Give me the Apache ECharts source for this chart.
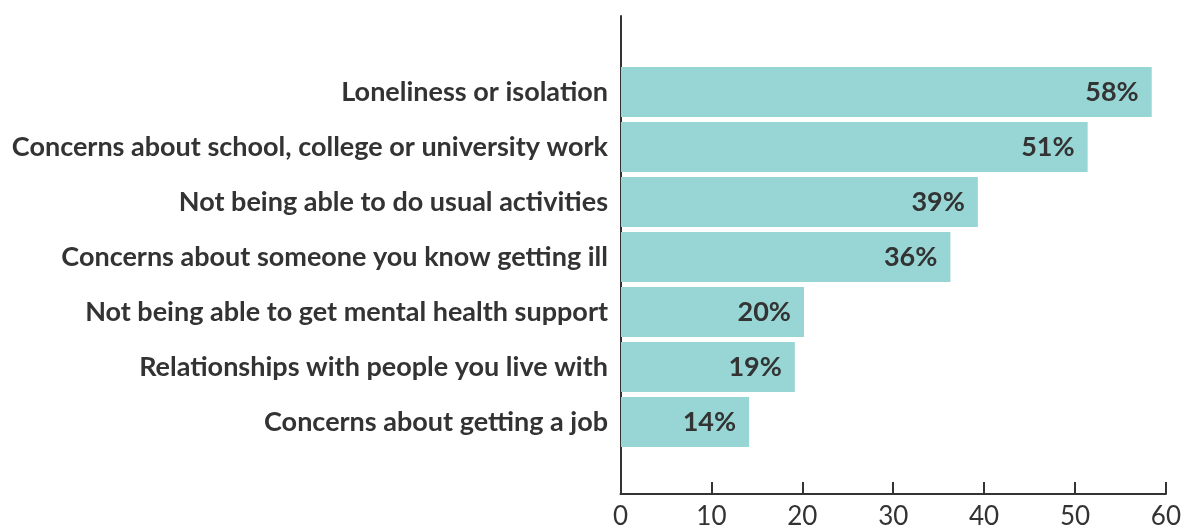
<!DOCTYPE html>
<html>
<head>
<meta charset="utf-8">
<script src="https://cdn.jsdelivr.net/npm/echarts@6/dist/echarts.min.js"></script>
<style>
html,body{margin:0;padding:0;background:#fff;}
#chart{width:1184px;height:530px;}
</style>
</head>
<body>
<div id="chart"></div>
<script>
var categories = [
  "Loneliness or isolation",
  "Concerns about school, college or university work",
  "Not being able to do usual activities",
  "Concerns about someone you know getting ill",
  "Not being able to get mental health support",
  "Relationships with people you live with",
  "Concerns about getting a job"
];
var values = [58, 51, 39, 36, 20, 19, 14];
var xTicks = [0, 10, 20, 30, 40, 50, 60];

var FONT = 'Lato';
var TEXT = '#333333';
var chart = echarts.init(document.getElementById('chart'), null, {renderer: 'canvas'});
chart.setOption({
  backgroundColor: '#ffffff',
  animation: false,
  grid: [
    {left: 621, right: 14, top: 64.5, height: 385},
    {left: 620.5, right: 14, top: 16, bottom: 33}
  ],
  xAxis: [
    {gridIndex: 0, type: 'value', min: 0, max: 60, show: false},
    {gridIndex: 1, type: 'value', min: xTicks[0], max: xTicks[xTicks.length-1], interval: 10,
     axisLine: {show: true, lineStyle: {color: TEXT, width: 2}},
     axisTick: {show: true, inside: true, length: 12, lineStyle: {color: TEXT, width: 2}},
     axisLabel: {color: TEXT, fontFamily: FONT, fontSize: 26, margin: 10},
     splitLine: {show: false}}
  ],
  yAxis: [
    {gridIndex: 0, type: 'category', data: categories, inverse: true,
     axisLine: {show: false}, axisTick: {show: false},
     axisLabel: {color: TEXT, fontFamily: FONT, fontWeight: 'bold', fontSize: 27, margin: 13}},
    {gridIndex: 1, type: 'value', min: 0, max: 1,
     axisLine: {show: true, lineStyle: {color: TEXT, width: 2}},
     axisTick: {show: false}, axisLabel: {show: false}, splitLine: {show: false}}
  ],
  series: [{
    type: 'bar',
    xAxisIndex: 0, yAxisIndex: 0,
    data: values,
    barWidth: 50,
    itemStyle: {color: '#98d5d5'},
    label: {show: true, position: 'insideRight', distance: 13,
      formatter: '{c}%', color: TEXT, fontFamily: FONT, fontWeight: 'bold', fontSize: 27},
    z: 1
  }]
});
</script>
</body>
</html>
